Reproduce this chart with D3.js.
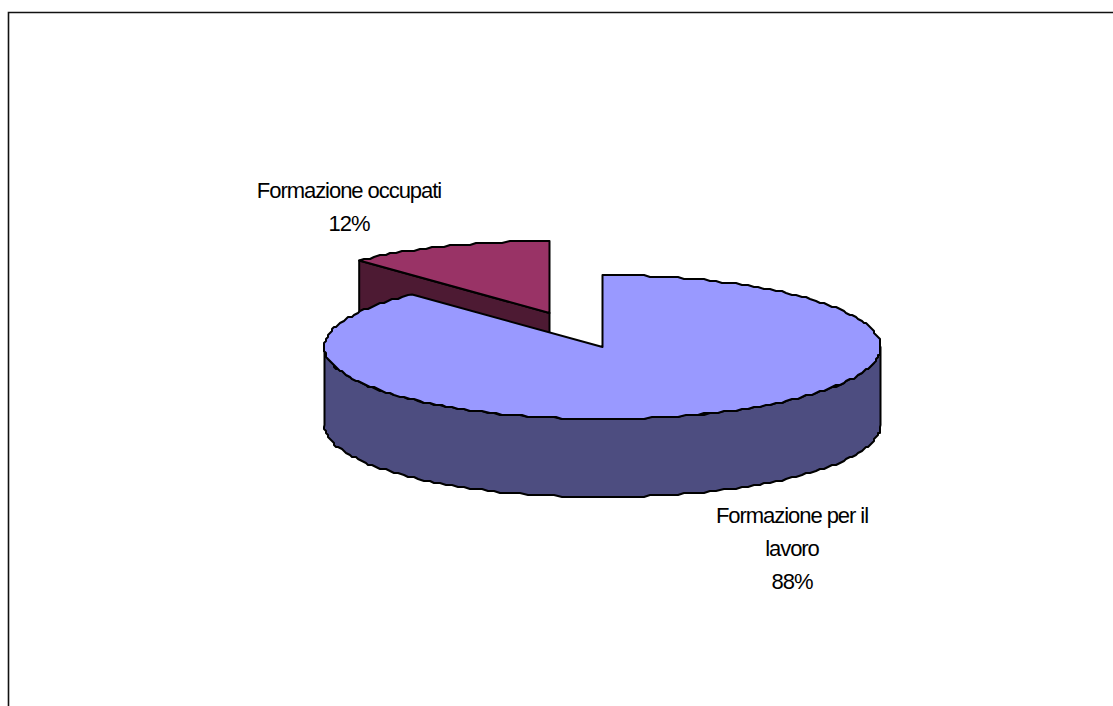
<!DOCTYPE html>
<html>
<head>
<meta charset="utf-8">
<script src="https://cdn.jsdelivr.net/npm/d3@7"></script>
<style>
  html, body { margin: 0; padding: 0; background: #fff; overflow: hidden; }
  svg { display: block; }
  text { font-family: "Liberation Sans", Arial, sans-serif; font-size: 22px; fill: #000; letter-spacing: -1.05px; }
</style>
</head>
<body>
<svg id="chart" width="1113" height="706"></svg>
<script>
/* 3D-look pie: one slice pulled out, drawn back to front so the big
   slice covers the side wall of the small one. */
var categories = ["Formazione per il lavoro", "Formazione occupati"];
var shares = [88, 12];
var labelLines = [["Formazione per il", "lavoro", "88%"], ["Formazione occupati", "12%"]];

var W = 1113, H = 706;
var rx = 278, ry = 72, depth = 78;
var cx = 602.5, cy = 347;
var pulled = { dx: -53, dy: -34 };
var topColors = ["#9999ff", "#993366"];
var sideColors = ["#4d4d80", "#4d1a33"];
var labelPos = [{ x: 792, y: 523, step: 33 }, { x: 349, y: 198, step: 33 }];

var svg = d3.select("#chart");

svg.append("path")
  .attr("d", "M8.5," + H + "V12.5H" + W)
  .attr("fill", "none").attr("stroke", "#111").attr("stroke-width", 1.6);

var slices = d3.pie().sort(null)(shares);

function pt(a, ox, oy) {
  return [ox + rx * Math.sin(a), oy - ry * Math.cos(a)];
}
// the source is a low-res metafile, its curves are slightly stepped
function snap(p) {
  return [Math.round(p[0] / 2) * 2, Math.round((p[1] + 1) / 2) * 2 - 1];
}
function arcPts(a0, a1, ox, oy) {
  var n = Math.ceil((a1 - a0) * 40);
  return d3.range(0, n + 1).map(function (i) {
    var p = pt(a0 + (a1 - a0) * i / n, ox, oy);
    return (i === 0 || i === n) ? p : snap(p);
  });
}
var line = d3.line();

function drawSlice(s, i) {
  var ox = cx + (i === 1 ? pulled.dx : 0);
  var oy = cy + (i === 1 ? pulled.dy : 0);
  var g = svg.append("g").attr("stroke", "#000").attr("stroke-width", 2).attr("stroke-linejoin", "round");

  if (i === 1) {
    // radial wall, the only side of the small slice that shows
    var a = pt(s.startAngle, ox, oy);
    var wall = [a, [ox, oy], [ox, oy + depth], [a[0], a[1] + depth]];
    g.append("path").attr("d", line(wall) + "Z").attr("fill", sideColors[i]);
  } else {
    // outer wall along the front half of the ellipse
    var front = arcPts(Math.PI / 2, 3 * Math.PI / 2, ox, oy);
    var low = front.map(function (p) { return [p[0], p[1] + depth]; }).reverse();
    g.append("path").attr("d", line(front.concat(low)) + "Z").attr("fill", sideColors[i]);
  }

  var top = [[ox, oy]].concat(arcPts(s.startAngle, s.endAngle, ox, oy));
  g.append("path").attr("d", line(top) + "Z").attr("fill", topColors[i]);
}

drawSlice(slices[1], 1);
drawSlice(slices[0], 0);

labelLines.forEach(function (lines, i) {
  var t = svg.append("text").attr("text-anchor", "middle");
  lines.forEach(function (l, k) {
    t.append("tspan").attr("x", labelPos[i].x).attr("y", labelPos[i].y + k * labelPos[i].step).text(l);
  });
});
</script>
</body>
</html>
